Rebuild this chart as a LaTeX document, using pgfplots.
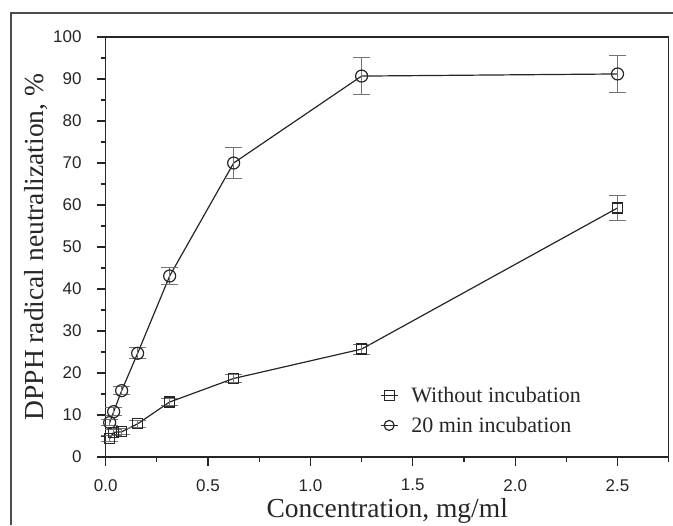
\documentclass[border=0pt]{standalone}
\usepackage{pgfplots}
\pgfplotsset{compat=1.18}
\usepackage{fontspec}
\setmainfont{Liberation Serif}
\newfontfamily\ticksfont{Liberation Sans}

% two-fold dilution series
\pgfplotstableread{
x      y     e
0.0195 4.4   0.7
0.039  5.9   0.7
0.078  6.0   0.7
0.156  7.9   0.8
0.3125 13.1  0.8
0.625  18.7  1.0
1.25   25.7  1.2
2.5    59.3  3.0
}\without
\pgfplotstableread{
x      y     e
0.0195 8.2   0.8
0.039  10.8  0.9
0.078  15.8  0.9
0.156  24.7  1.3
0.3125 43.1  2.1
0.625  70.0  3.6
1.25   90.7  4.5
2.5    91.2  4.4
}\incub

\begin{document}
\begin{tikzpicture}
\begin{axis}[
  scale only axis,
  width=563pt, height=420pt,
  xmin=0, xmax=2.75,
  ymin=0, ymax=100,
  xtick={0,0.5,...,2.5},
  minor xtick={0.25,0.75,...,2.75},
  ytick={0,10,...,100},
  minor ytick={5,15,...,95},
  /pgf/number format/assume math mode=true,
  tick label style={font=\ticksfont\fontsize{17}{19}\selectfont, text=black!85, inner sep=0pt},
  xticklabel style={/pgf/number format/fixed, /pgf/number format/fixed zerofill,
    /pgf/number format/precision=1, yshift=-13pt},
  yticklabel style={xshift=-15pt},
  axis x line*=bottom, axis y line*=left,
  tick align=outside,
  major tick length=9pt, minor tick length=5pt,
  tick style={black!85, line width=1.2pt},
  axis line style={black!85, line width=1.3pt, -},
  xlabel={Concentration, mg/ml},
  ylabel={DPPH radical neutralization, \%},
  label style={font=\fontsize{27.5}{31}\selectfont, text=black!85, inner sep=0pt},
  xlabel style={at={(rel axis cs:0.5,-0.145)}, anchor=base},
  ylabel style={at={(rel axis cs:-0.111,0.5)}, anchor=base},
  legend style={draw=none, fill=none, at={(rel axis cs:0.487,0.169)}, anchor=north west,
    font=\fontsize{22}{24}\selectfont, text=black!85, inner sep=0pt, row sep=11pt,
    nodes={inner sep=1pt},
    /tikz/every odd column/.append style={column sep=12pt}},
  legend cell align=left,
  legend image code/.code={
    \draw[#1, mark=none] (0pt,0pt) -- (17pt,0pt);
    \draw[#1, only marks, mark size=5pt, mark options={fill=white, solid}]
      plot coordinates {(8.5pt,0pt)};},
  clip=false
]
\draw[black!85, line width=1.3pt] (rel axis cs:0,1) -- (rel axis cs:1,1) -- (rel axis cs:1,0);
\addplot[black!85, line width=1.2pt, mark=square, mark size=5pt,
  mark options={fill=white, solid},
  error bars/.cd, y dir=both, y explicit,
  error bar style={black!55, line width=1pt},
  error mark options={rotate=90, mark size=8.5pt, black!55, line width=1pt}]
  table[x=x, y=y, y error=e] {\without};
\addlegendentry{Without incubation}
\addplot[black!85, line width=1.2pt, mark=o, mark size=6pt,
  mark options={fill=white, solid},
  error bars/.cd, y dir=both, y explicit,
  error bar style={black!55, line width=1pt},
  error mark options={rotate=90, mark size=8.5pt, black!55, line width=1pt}]
  table[x=x, y=y, y error=e] {\incub};
\addlegendentry{20 min incubation}
\coordinate (bl) at (rel axis cs:-0.1877,-0.1619);
\coordinate (tr) at (rel axis cs:1.0076,1.0881);
\draw[black!70, line width=1.5pt] (rel axis cs:-0.1682,-0.1619) -- (rel axis cs:-0.1682,1.0571) -- (rel axis cs:1.0076,1.0571);
\end{axis}
\pgfresetboundingbox
\path[use as bounding box] (bl) rectangle (tr);
\end{tikzpicture}
\end{document}
